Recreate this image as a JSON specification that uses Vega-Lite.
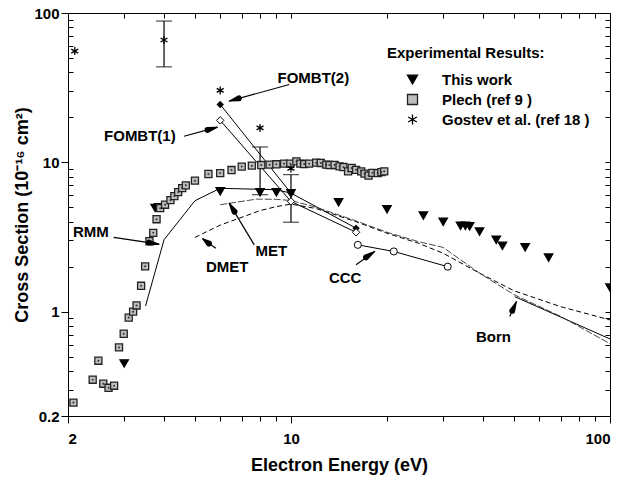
{
  "$schema": "https://vega.github.io/schema/vega-lite/v6.json",
  "width": 542,
  "height": 403,
  "autosize": "none",
  "padding": {"left": 68, "top": 13, "right": 17, "bottom": 66},
  "background": "white",
  "config": {
    "view": {"stroke": "black", "strokeWidth": 1},
    "font": "Liberation Sans",
    "axis": {
      "grid": false, "domainColor": "black", "tickColor": "black", "labelColor": "black", "titleColor": "black",
      "labelFont": "Liberation Sans", "titleFont": "Liberation Sans", "labelFontWeight": "bold", "titleFontWeight": "bold",
      "labelFontSize": 15, "titleFontSize": 18, "tickWidth": 1, "domainWidth": 1
    }
  },
  "datasets": {
    "exp": [
      {"series": "This work", "E": 3.0, "S": 0.45},
      {"series": "This work", "E": 3.75, "S": 4.95},
      {"series": "This work", "E": 3.85, "S": 5.0},
      {"series": "This work", "E": 6.0, "S": 6.4},
      {"series": "This work", "E": 8.0, "S": 6.3},
      {"series": "This work", "E": 9.0, "S": 6.3},
      {"series": "This work", "E": 10.0, "S": 6.2},
      {"series": "This work", "E": 14.1, "S": 5.4},
      {"series": "This work", "E": 20.0, "S": 4.85},
      {"series": "This work", "E": 26.0, "S": 4.4},
      {"series": "This work", "E": 30.0, "S": 4.0},
      {"series": "This work", "E": 34.0, "S": 3.76},
      {"series": "This work", "E": 35.2, "S": 3.76},
      {"series": "This work", "E": 36.3, "S": 3.73},
      {"series": "This work", "E": 39.0, "S": 3.44},
      {"series": "This work", "E": 44.0, "S": 3.03},
      {"series": "This work", "E": 46.0, "S": 2.76},
      {"series": "This work", "E": 54.2, "S": 2.7},
      {"series": "This work", "E": 64.2, "S": 2.3},
      {"series": "This work", "E": 100.0, "S": 1.45},
      {"series": "Plech (ref 9 )", "E": 2.08, "S": 0.246},
      {"series": "Plech (ref 9 )", "E": 2.39, "S": 0.35},
      {"series": "Plech (ref 9 )", "E": 2.49, "S": 0.469},
      {"series": "Plech (ref 9 )", "E": 2.58, "S": 0.329},
      {"series": "Plech (ref 9 )", "E": 2.68, "S": 0.309},
      {"series": "Plech (ref 9 )", "E": 2.79, "S": 0.319},
      {"series": "Plech (ref 9 )", "E": 2.89, "S": 0.576},
      {"series": "Plech (ref 9 )", "E": 2.99, "S": 0.711},
      {"series": "Plech (ref 9 )", "E": 3.10, "S": 0.912},
      {"series": "Plech (ref 9 )", "E": 3.20, "S": 1.0},
      {"series": "Plech (ref 9 )", "E": 3.28, "S": 1.10},
      {"series": "Plech (ref 9 )", "E": 3.39, "S": 1.49},
      {"series": "Plech (ref 9 )", "E": 3.49, "S": 2.01},
      {"series": "Plech (ref 9 )", "E": 3.60, "S": 2.96},
      {"series": "Plech (ref 9 )", "E": 3.70, "S": 3.37},
      {"series": "Plech (ref 9 )", "E": 3.79, "S": 4.16},
      {"series": "Plech (ref 9 )", "E": 3.89, "S": 4.93},
      {"series": "Plech (ref 9 )", "E": 4.03, "S": 5.20},
      {"series": "Plech (ref 9 )", "E": 4.19, "S": 5.58},
      {"series": "Plech (ref 9 )", "E": 4.31, "S": 5.94},
      {"series": "Plech (ref 9 )", "E": 4.43, "S": 6.32},
      {"series": "Plech (ref 9 )", "E": 4.56, "S": 6.72},
      {"series": "Plech (ref 9 )", "E": 4.68, "S": 7.01},
      {"series": "Plech (ref 9 )", "E": 5.0, "S": 7.54},
      {"series": "Plech (ref 9 )", "E": 5.51, "S": 8.35},
      {"series": "Plech (ref 9 )", "E": 6.0, "S": 8.47},
      {"series": "Plech (ref 9 )", "E": 6.51, "S": 8.88},
      {"series": "Plech (ref 9 )", "E": 7.01, "S": 9.36},
      {"series": "Plech (ref 9 )", "E": 7.54, "S": 9.5},
      {"series": "Plech (ref 9 )", "E": 8.07, "S": 9.59},
      {"series": "Plech (ref 9 )", "E": 8.57, "S": 9.65},
      {"series": "Plech (ref 9 )", "E": 9.0, "S": 9.7},
      {"series": "Plech (ref 9 )", "E": 9.51, "S": 9.8},
      {"series": "Plech (ref 9 )", "E": 9.95, "S": 9.8},
      {"series": "Plech (ref 9 )", "E": 10.4, "S": 10.15},
      {"series": "Plech (ref 9 )", "E": 10.7, "S": 9.8},
      {"series": "Plech (ref 9 )", "E": 11.0, "S": 9.74},
      {"series": "Plech (ref 9 )", "E": 11.4, "S": 9.8},
      {"series": "Plech (ref 9 )", "E": 12.0, "S": 9.95},
      {"series": "Plech (ref 9 )", "E": 12.4, "S": 9.9},
      {"series": "Plech (ref 9 )", "E": 12.9, "S": 9.65},
      {"series": "Plech (ref 9 )", "E": 13.2, "S": 9.59},
      {"series": "Plech (ref 9 )", "E": 13.7, "S": 9.6},
      {"series": "Plech (ref 9 )", "E": 14.2, "S": 9.4},
      {"series": "Plech (ref 9 )", "E": 14.6, "S": 9.3},
      {"series": "Plech (ref 9 )", "E": 15.1, "S": 8.7},
      {"series": "Plech (ref 9 )", "E": 15.5, "S": 9.16},
      {"series": "Plech (ref 9 )", "E": 16.0, "S": 8.9},
      {"series": "Plech (ref 9 )", "E": 16.6, "S": 8.7},
      {"series": "Plech (ref 9 )", "E": 17.0, "S": 8.4},
      {"series": "Plech (ref 9 )", "E": 17.5, "S": 8.14},
      {"series": "Plech (ref 9 )", "E": 18.0, "S": 8.5},
      {"series": "Plech (ref 9 )", "E": 18.7, "S": 8.47},
      {"series": "Plech (ref 9 )", "E": 19.2, "S": 8.6},
      {"series": "Plech (ref 9 )", "E": 19.6, "S": 8.7},
      {"series": "Gostev et al. (ref 18 )", "E": 2.10, "S": 55.6},
      {"series": "Gostev et al. (ref 18 )", "E": 4.0, "S": 65.9},
      {"series": "Gostev et al. (ref 18 )", "E": 6.0, "S": 30.3},
      {"series": "Gostev et al. (ref 18 )", "E": 8.0, "S": 17.0},
      {"series": "Gostev et al. (ref 18 )", "E": 10.0, "S": 9.1}
    ],
    "theory": [
      {"model": "RMM", "E": 3.5, "S": 1.09},
      {"model": "RMM", "E": 4.0, "S": 3.03},
      {"model": "RMM", "E": 5.0, "S": 5.53},
      {"model": "RMM", "E": 6.0, "S": 6.7},
      {"model": "RMM", "E": 9.0, "S": 6.55},
      {"model": "RMM", "E": 10.0, "S": 6.22},
      {"model": "FOMBT(2)", "E": 6.0, "S": 24.4},
      {"model": "FOMBT(2)", "E": 10.0, "S": 6.22},
      {"model": "FOMBT(2)", "E": 16.0, "S": 3.62},
      {"model": "FOMBT(1)", "E": 6.0, "S": 19.1},
      {"model": "FOMBT(1)", "E": 10.0, "S": 5.47},
      {"model": "FOMBT(1)", "E": 16.0, "S": 3.40},
      {"model": "CCC", "E": 16.2, "S": 2.80},
      {"model": "CCC", "E": 21.0, "S": 2.53},
      {"model": "CCC", "E": 31.0, "S": 2.0},
      {"model": "Born", "E": 50.3, "S": 1.26},
      {"model": "Born", "E": 100.0, "S": 0.656},
      {"model": "DMET", "E": 5.0, "S": 3.14},
      {"model": "DMET", "E": 6.0, "S": 3.8},
      {"model": "DMET", "E": 6.9, "S": 4.23},
      {"model": "DMET", "E": 8.0, "S": 4.75},
      {"model": "DMET", "E": 9.0, "S": 5.05},
      {"model": "DMET", "E": 10.0, "S": 5.25},
      {"model": "DMET", "E": 12.0, "S": 4.9},
      {"model": "DMET", "E": 16.0, "S": 4.0},
      {"model": "DMET", "E": 20.0, "S": 3.35},
      {"model": "DMET", "E": 25.0, "S": 2.88},
      {"model": "DMET", "E": 30.0, "S": 2.46},
      {"model": "DMET", "E": 39.0, "S": 1.81},
      {"model": "DMET", "E": 50.0, "S": 1.38},
      {"model": "DMET", "E": 70.0, "S": 1.08},
      {"model": "DMET", "E": 100.0, "S": 0.88},
      {"model": "MET", "E": 6.0, "S": 5.2},
      {"model": "MET", "E": 7.8, "S": 5.67},
      {"model": "MET", "E": 9.0, "S": 5.65},
      {"model": "MET", "E": 10.0, "S": 5.55},
      {"model": "MET", "E": 12.0, "S": 5.0},
      {"model": "MET", "E": 16.0, "S": 4.05},
      {"model": "MET", "E": 20.0, "S": 3.4},
      {"model": "MET", "E": 25.0, "S": 2.95},
      {"model": "MET", "E": 30.0, "S": 2.69},
      {"model": "MET", "E": 39.0, "S": 1.81},
      {"model": "MET", "E": 50.0, "S": 1.3},
      {"model": "MET", "E": 70.0, "S": 0.93},
      {"model": "MET", "E": 100.0, "S": 0.61}
    ],
    "err": [
      {"E": 4.0, "lo": 43.6, "hi": 88.3},
      {"E": 8.0, "lo": 6.07, "hi": 12.67},
      {"E": 10.0, "lo": 3.97, "hi": 8.27}
    ],
    "labels": [
      {"label": "FOMBT(2)", "E": 11.75, "S": 36.8},
      {"label": "FOMBT(1)", "E": 3.36, "S": 14.9},
      {"label": "RMM", "E": 2.36, "S": 3.40},
      {"label": "DMET", "E": 6.31, "S": 2.0},
      {"label": "MET", "E": 8.67, "S": 2.56},
      {"label": "CCC", "E": 14.79, "S": 1.67},
      {"label": "Born", "E": 43.1, "S": 0.68}
    ],
    "arrows": [
      {"id": "a1", "E": 9.88, "S": 33.2, "E2": 6.40, "S2": 25.7},
      {"id": "a2", "E": 4.62, "S": 14.94, "E2": 5.88, "S2": 17.2},
      {"id": "a3", "E": 2.78, "S": 3.14, "E2": 3.86, "S2": 2.83},
      {"id": "a4", "E": 5.81, "S": 2.66, "E2": 5.28, "S2": 3.08},
      {"id": "a5", "E": 7.67, "S": 2.80, "E2": 6.40, "S2": 5.33},
      {"id": "a6", "E": 16.0, "S": 2.06, "E2": 18.3, "S2": 2.53},
      {"id": "a7", "E": 48.5, "S": 0.926, "E2": 50.9, "S2": 1.167}
    ],
    "heads": [
      {"id": "a1", "part": "base", "E": 6.86, "S": 26.8},
      {"id": "a1", "part": "tip", "E": 6.40, "S": 25.7},
      {"id": "a2", "part": "base", "E": 5.48, "S": 16.5},
      {"id": "a2", "part": "tip", "E": 5.88, "S": 17.2},
      {"id": "a3", "part": "base", "E": 3.59, "S": 2.90},
      {"id": "a3", "part": "tip", "E": 3.86, "S": 2.83},
      {"id": "a4", "part": "base", "E": 5.53, "S": 2.86},
      {"id": "a4", "part": "tip", "E": 5.28, "S": 3.08},
      {"id": "a5", "part": "base", "E": 6.65, "S": 4.67},
      {"id": "a5", "part": "tip", "E": 6.40, "S": 5.33},
      {"id": "a6", "part": "base", "E": 17.2, "S": 2.31},
      {"id": "a6", "part": "tip", "E": 18.3, "S": 2.53},
      {"id": "a7", "part": "base", "E": 49.4, "S": 1.014},
      {"id": "a7", "part": "tip", "E": 50.9, "S": 1.167}
    ]
  },
  "layer": [
    {
      "resolve": {"scale": {"size": "independent"}},
      "layer": [
        {
          "data": {"name": "theory"},
          "transform": [{"filter": "indexof(['RMM','FOMBT(1)','FOMBT(2)','CCC','Born'], datum.model) >= 0"}],
          "mark": {"type": "line", "color": "black", "strokeWidth": 1},
          "encoding": {
            "x": {
              "field": "E", "type": "quantitative",
              "scale": {"type": "log", "domain": [2, 100], "nice": false, "zero": false},
              "axis": {
                "title": "Electron Energy (eV)",
                "values": [2, 3, 4, 5, 6, 7, 8, 9, 10, 20, 30, 40, 50, 60, 70, 80, 90, 100],
                "format": "~g",
                "labelExpr": "indexof([2,10,100], datum.value) >= 0 ? datum.label : ''",
                "tickSize": {"condition": {"test": "indexof([2,10,100], datum.value) >= 0", "value": 7}, "value": 5},
                "labelPadding": 8,
                "titlePadding": 10
              }
            },
            "y": {
              "field": "S", "type": "quantitative",
              "scale": {"type": "log", "domain": [0.2, 100], "nice": false, "zero": false},
              "axis": {
                "title": "Cross Section  (10⁻¹⁶ cm²)",
                "values": [0.2, 0.3, 0.4, 0.5, 0.6, 0.7, 0.8, 0.9, 1, 2, 3, 4, 5, 6, 7, 8, 9, 10, 20, 30, 40, 50, 60, 70, 80, 90, 100],
                "format": "~g",
                "labelExpr": "indexof([0.2,1,10,100], datum.value) >= 0 ? datum.label : ''",
                "tickSize": {"condition": {"test": "indexof([0.2,1,10,100], datum.value) >= 0", "value": 7}, "value": -5},
                "labelPadding": 2,
                "titlePadding": 2
              }
            },
            "detail": {"field": "model"}
          }
        },
        {
          "data": {"name": "theory"},
          "transform": [{"filter": "datum.model == 'DMET'"}],
          "mark": {"type": "line", "color": "black", "strokeWidth": 1, "strokeDash": [5, 3]},
          "encoding": {"x": {"field": "E", "type": "quantitative"}, "y": {"field": "S", "type": "quantitative"}}
        },
        {
          "data": {"name": "theory"},
          "transform": [{"filter": "datum.model == 'MET'"}],
          "mark": {"type": "line", "color": "#333333", "strokeWidth": 0.9, "strokeDash": [7, 2]},
          "encoding": {"x": {"field": "E", "type": "quantitative"}, "y": {"field": "S", "type": "quantitative"}}
        },
        {
          "data": {"name": "err"},
          "mark": {"type": "rule", "color": "black", "strokeWidth": 1.2},
          "encoding": {"x": {"field": "E", "type": "quantitative"}, "y": {"field": "lo", "type": "quantitative"}, "y2": {"field": "hi"}}
        },
        {
          "data": {"name": "err"},
          "transform": [{"fold": ["lo", "hi"], "as": ["end", "S"]}],
          "mark": {"type": "tick", "orient": "horizontal", "color": "black", "size": 16, "thickness": 1.2},
          "encoding": {"x": {"field": "E", "type": "quantitative"}, "y": {"field": "S", "type": "quantitative"}}
        },
        {
          "data": {"name": "exp"},
          "mark": {"type": "point", "opacity": 1, "strokeWidth": 1.3, "clip": true},
          "encoding": {
            "x": {"field": "E", "type": "quantitative"},
            "y": {"field": "S", "type": "quantitative"},
            "shape": {
              "field": "series", "type": "nominal",
              "scale": {"domain": ["This work", "Plech (ref 9 )", "Gostev et al. (ref 18 )"], "range": ["triangle-down", "square", "M0,-1L0,1M-0.87,-0.5L0.87,0.5M-0.87,0.5L0.87,-0.5"]},
              "legend": {
                "title": "Experimental Results:", "orient": "none", "legendX": 319, "legendY": 33,
                "titleFont": "Liberation Sans", "titleFontSize": 15, "titleFontWeight": "bold", "titleColor": "black",
                "labelFont": "Liberation Sans", "labelFontSize": 15, "labelFontWeight": "bold", "labelColor": "black",
                "symbolOffset": 18, "labelOffset": 22, "rowPadding": 3, "titlePadding": 11, "symbolStrokeWidth": 1.3, "padding": 0
              }
            },
            "fill": {"field": "series", "type": "nominal", "scale": {"domain": ["This work", "Plech (ref 9 )", "Gostev et al. (ref 18 )"], "range": ["black", "#bdbdbd", "black"]}},
            "stroke": {"field": "series", "type": "nominal", "scale": {"domain": ["This work", "Plech (ref 9 )", "Gostev et al. (ref 18 )"], "range": ["black", "#222222", "black"]}},
            "size": {"field": "series", "type": "nominal", "scale": {"type": "ordinal", "domain": ["This work", "Plech (ref 9 )", "Gostev et al. (ref 18 )"], "range": [70, 50, 64]}}
          }
        },
        {
          "data": {"name": "exp"},
          "transform": [{"filter": "datum.series == 'Plech (ref 9 )'"}],
          "mark": {"type": "point", "shape": "circle", "filled": true, "color": "#333333", "size": 4, "opacity": 1},
          "encoding": {"x": {"field": "E", "type": "quantitative"}, "y": {"field": "S", "type": "quantitative"}}
        },
        {
          "data": {"name": "theory"},
          "transform": [{"filter": "datum.model == 'FOMBT(2)'"}],
          "mark": {"type": "point", "shape": "diamond", "filled": true, "color": "black", "size": 55, "opacity": 1},
          "encoding": {"x": {"field": "E", "type": "quantitative"}, "y": {"field": "S", "type": "quantitative"}}
        },
        {
          "data": {"name": "theory"},
          "transform": [{"filter": "datum.model == 'FOMBT(1)'"}],
          "mark": {"type": "point", "shape": "diamond", "fill": "white", "stroke": "black", "strokeWidth": 1, "size": 55, "opacity": 1},
          "encoding": {"x": {"field": "E", "type": "quantitative"}, "y": {"field": "S", "type": "quantitative"}}
        },
        {
          "data": {"name": "theory"},
          "transform": [{"filter": "datum.model == 'CCC'"}],
          "mark": {"type": "point", "shape": "circle", "fill": "white", "stroke": "black", "strokeWidth": 1, "size": 50, "opacity": 1},
          "encoding": {"x": {"field": "E", "type": "quantitative"}, "y": {"field": "S", "type": "quantitative"}}
        },
        {
          "data": {"name": "arrows"},
          "mark": {"type": "rule", "color": "black", "strokeWidth": 1.2},
          "encoding": {"x": {"field": "E", "type": "quantitative"}, "y": {"field": "S", "type": "quantitative"}, "x2": {"field": "E2"}, "y2": {"field": "S2"}}
        },
        {
          "data": {"name": "heads"},
          "mark": {"type": "trail", "color": "black"},
          "encoding": {
            "x": {"field": "E", "type": "quantitative"},
            "y": {"field": "S", "type": "quantitative"},
            "detail": {"field": "id"},
            "size": {"field": "part", "type": "ordinal", "scale": {"type": "ordinal", "domain": ["base", "tip"], "range": [6, 0]}, "legend": null}
          }
        },
        {
          "data": {"name": "labels"},
          "mark": {"type": "text", "font": "Liberation Sans", "fontSize": 15, "fontWeight": "bold", "color": "black", "align": "center", "baseline": "middle"},
          "encoding": {"x": {"field": "E", "type": "quantitative"}, "y": {"field": "S", "type": "quantitative"}, "text": {"field": "label"}}
        }
      ]
    },
    {
      "data": {"values": [{"E": 10, "S": 1}]},
      "mark": {"type": "point", "opacity": 0},
      "encoding": {
        "x": {
          "field": "E", "type": "quantitative",
          "scale": {"type": "log", "domain": [2, 100], "nice": false, "zero": false},
          "axis": {"orient": "top", "title": null, "labels": false, "domain": false, "tickSize": -5,
            "values": [2, 3, 4, 5, 6, 7, 8, 9, 10, 20, 30, 40, 50, 60, 70, 80, 90, 100]}
        },
        "y": {
          "field": "S", "type": "quantitative",
          "scale": {"type": "log", "domain": [0.2, 100], "nice": false, "zero": false},
          "axis": {"orient": "right", "title": null, "labels": false, "domain": false, "tickSize": -5,
            "values": [0.2, 0.3, 0.4, 0.5, 0.6, 0.7, 0.8, 0.9, 1, 2, 3, 4, 5, 6, 7, 8, 9, 10, 20, 30, 40, 50, 60, 70, 80, 90, 100]}
        }
      }
    }
  ],
  "resolve": {"axis": {"x": "independent", "y": "independent"}}
}
